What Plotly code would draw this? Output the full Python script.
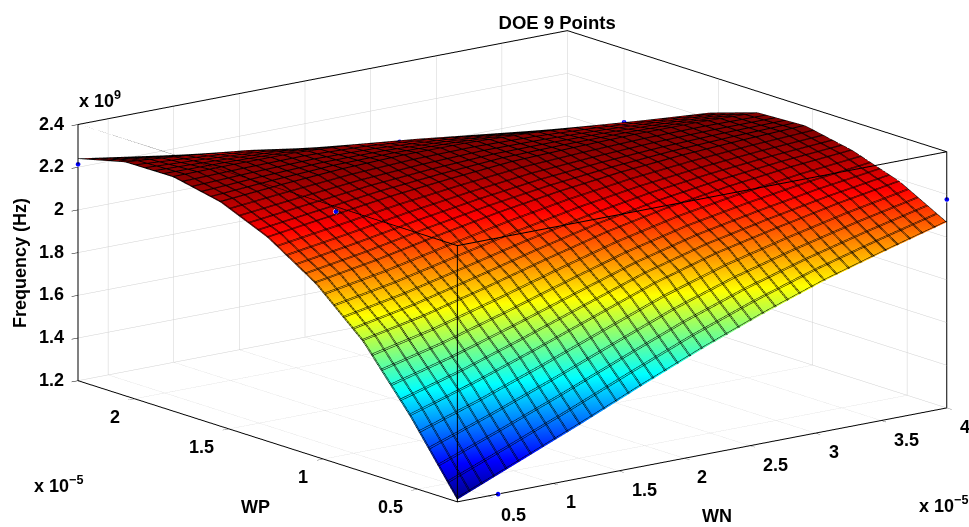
import plotly.graph_objects as go

wn = [0.27, 0.73625, 1.2025, 1.66875, 2.135, 2.60125, 3.0675, 3.53375, 4.0]
wp = [0.29, 0.54, 0.79, 1.04, 1.295, 1.545, 1.795, 2.05, 2.3]
freq = [
 [1.210,1.330,1.450,1.575,1.695,1.805,1.905,1.990,2.070],
 [1.530,1.620,1.720,1.825,1.930,2.015,2.080,2.140,2.190],
 [1.810,1.870,1.945,2.025,2.100,2.160,2.205,2.240,2.265],
 [2.010,2.060,2.120,2.175,2.220,2.255,2.280,2.297,2.310],
 [2.155,2.195,2.235,2.265,2.290,2.300,2.307,2.307,2.300],
 [2.250,2.275,2.295,2.305,2.305,2.295,2.275,2.250,2.228],
 [2.297,2.300,2.300,2.285,2.255,2.220,2.185,2.155,2.130],
 [2.295,2.270,2.240,2.195,2.150,2.115,2.085,2.050,2.020],
 [2.240,2.195,2.150,2.105,2.060,2.025,1.990,1.960,1.935],
]
doe_wn = [0.27, 2.72, 4.0, 4.0, 0.79, 0.58]
doe_wp = [2.3, 2.3, 2.0, 0.29, 1.295, 0.29]
doe_f = [2.214, 2.03, 2.056, 2.177, 2.215, 1.2]

wn_ticks = [0.5, 1, 1.5, 2, 2.5, 3, 3.5, 4]
wn_labels = ["0.5", "1", "1.5", "2", "2.5", "3", "3.5", "4"]
wp_ticks = [0.5, 1, 1.5, 2]
wp_labels = ["0.5", "1", "1.5", "2"]
f_ticks = [1.2, 1.4, 1.6, 1.8, 2, 2.2, 2.4]
f_labels = ["1.2", "1.4", "1.6", "1.8", "2", "2.2", "2.4"]
WN_MIN, WN_MAX = 0.27, 4.0
WP_MIN, WP_MAX = 0.29, 2.3
F_MIN, F_MAX = 1.2, 2.4

jet = [[0,"#00007f"],[0.125,"#0000ff"],[0.375,"#00ffff"],[0.625,"#ffff00"],[0.875,"#ff0000"],[1,"#7f0000"]]
FONT = "Liberation Sans"
lf = dict(family=FONT, size=18, color="black")

def axis(rng, vals, labels):
    return dict(range=rng, tickvals=vals, ticktext=labels, autorange=False, title=dict(text=""),
                showgrid=True, gridcolor="#d0d0d0", gridwidth=1, showbackground=False,
                showline=True, linecolor="black", linewidth=2, mirror=True, showticklabels=False,
                ticks="outside", ticklen=8, tickcolor="black", tickwidth=1,
                zeroline=False, showspikes=False)

def surface(offset_x, offset_y):
    return go.Surface(x=wn, y=wp, z=freq, colorscale=jet, cmin=1.2, cmax=2.31, showscale=False,
        lighting=dict(ambient=1, diffuse=0, specular=0, roughness=1, fresnel=0),
        contours=dict(
            x=dict(show=True, start=WN_MIN+offset_x, end=WN_MAX, size=(WN_MAX-WN_MIN)/40, color="black", width=3),
            y=dict(show=True, start=WP_MIN+offset_y, end=WP_MAX, size=(WP_MAX-WP_MIN)/40, color="black", width=3)),
        hoverinfo="skip")

fig = go.Figure()
fig.add_trace(surface(0, 0))
fig.add_trace(surface(0.008, 0.005))
fig.add_trace(go.Scatter3d(x=doe_wn, y=doe_wp, z=doe_f, mode="markers",
    marker=dict(size=3, color="blue", line=dict(color="white", width=1)), hoverinfo="skip"))
# front edges of the axes box, taken from the axis limits
fig.add_trace(go.Scatter3d(x=[WN_MIN, WN_MIN], y=[WP_MIN, WP_MIN], z=[F_MIN, F_MAX], mode="lines",
    line=dict(color="black", width=2), hoverinfo="skip"))
fig.add_trace(go.Scatter3d(x=[WN_MIN, WN_MIN, WN_MAX], y=[WP_MAX, WP_MIN, WP_MIN], z=[F_MAX, F_MAX, F_MAX],
    mode="lines", line=dict(color="black", width=2), hoverinfo="skip"))

scene_ann = []
for v, t in zip(wn_ticks, wn_labels):
    scene_ann.append(dict(x=v, y=WP_MIN, z=F_MIN, text=f"<b>{t}</b>", showarrow=False, font=lf,
                          xanchor="left", yanchor="middle", xshift=11, yshift=-19))
for v, t in zip(wp_ticks, wp_labels):
    scene_ann.append(dict(x=WN_MIN, y=v, z=F_MIN, text=f"<b>{t}</b>", showarrow=False, font=lf,
                          xanchor="right", yanchor="middle", xshift=-13, yshift=-18))
for v, t in zip(f_ticks, f_labels):
    scene_ann.append(dict(x=WN_MIN, y=WP_MAX, z=v, text=f"<b>{t}</b>", showarrow=False, font=lf,
                          xanchor="right", yanchor="middle", xshift=-12, yshift=1))

d = 4.0
s = 2.35
fig.update_layout(
    width=969, height=527, margin=dict(l=0, r=0, t=0, b=0), paper_bgcolor="white", showlegend=False,
    font=dict(family=FONT, color="black"),
    scene=dict(
        domain=dict(x=[0, 1], y=[0, 1]),
        xaxis=axis([WN_MIN, WN_MAX], wn_ticks, wn_labels),
        yaxis=axis([WP_MIN, WP_MAX], wp_ticks, wp_labels),
        zaxis=axis([F_MIN, F_MAX], f_ticks, f_labels),
        aspectmode="manual", aspectratio=dict(x=s, y=s, z=0.427*s),
        annotations=scene_ann,
        camera=dict(projection=dict(type="orthographic"),
                    eye=dict(x=-0.614*d, y=-0.749*d, z=0.25*d),
                    center=dict(x=-0.082, y=0.067, z=0.01), up=dict(x=0, y=0, z=1)),
    ),
    title=dict(text="<b>DOE 9 Points</b>", x=0.575, xanchor="center", y=0.958, yanchor="middle",
               font=dict(family=FONT, size=18.5, color="black")),
    annotations=[
        dict(text="<b>Frequency (Hz)</b>", x=20, y=263, textangle=-90),
        dict(text="<b>x 10<sup>9</sup></b>", x=100, y=100),
        dict(text="<b>x 10<sup>−5</sup></b>", x=58, y=484),
        dict(text="<b>x 10<sup>−5</sup></b>", x=943, y=504),
        dict(text="<b>WP</b>", x=255, y=507),
        dict(text="<b>WN</b>", x=717, y=516),
    ],
)
for a in fig.layout.annotations:
    a.update(xref="paper", yref="paper", x=a.x/969, y=1-a.y/527, showarrow=False,
             xanchor="center", yanchor="middle", font=lf)
fig.write_html("out.html", post_script="document.body.style.margin='0';", config=dict(displayModeBar=False))
